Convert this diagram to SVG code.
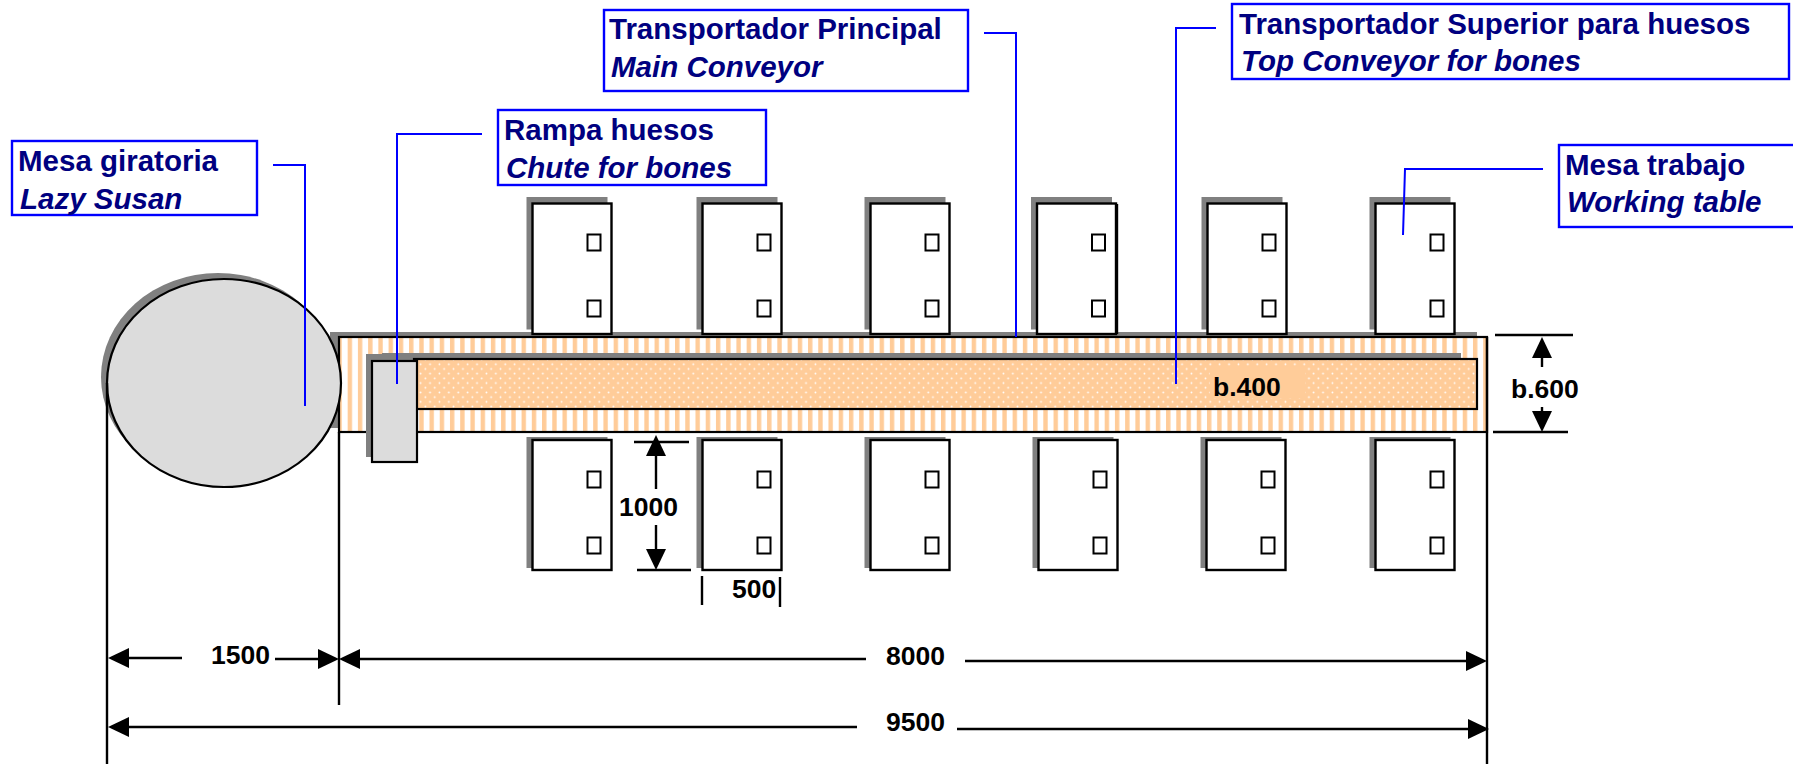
<svg xmlns="http://www.w3.org/2000/svg" width="1793" height="764" viewBox="0 0 1793 764">
<style>
text{font-family:"Liberation Sans",Arial,sans-serif;font-weight:bold}
.lab{font-size:29.5px;fill:#000080}
.it{font-style:italic}
.dim{font-size:26.5px;fill:#000}
.box{fill:#fff;stroke:#0000ff;stroke-width:2.4}
.shadow{fill:#808080}
.tb{fill:#fff;stroke:#000;stroke-width:2.4}
.sq{fill:#fff;stroke:#000;stroke-width:2}
.body{stroke:#000;stroke-width:2.2}
.lead{fill:none;stroke:#0000ff;stroke-width:2}
.dl{fill:none;stroke:#000;stroke-width:2.4}
</style>
<defs>
<pattern id="stripes" patternUnits="userSpaceOnUse" x="529" y="0" width="10.23" height="20"><rect width="10.23" height="20" fill="#fff"/><rect x="2.8" width="4.4" height="20" fill="#ffcc99"/></pattern>
<pattern id="dots" patternUnits="userSpaceOnUse" width="9.4" height="9.4"><rect width="9.4" height="9.4" fill="#ffcc99"/><circle cx="2.35" cy="2.35" r="0.9" fill="#fff"/><circle cx="7.05" cy="7.05" r="0.9" fill="#fff"/></pattern>
<marker id="tri" markerUnits="userSpaceOnUse" markerWidth="21" markerHeight="20" viewBox="0 0 21 20" refX="0" refY="10" orient="auto"><path d="M0 0L21 10L0 20Z" fill="#000"/></marker>
<g id="table-top"><rect class="shadow" x="-6" y="-6.500" width="81" height="132.500"/><rect class="tb" width="79" height="130.500"/><rect class="sq" x="55" y="31" width="13" height="16"/><rect class="sq" x="55" y="97" width="13" height="16"/></g>
<g id="table-bottom"><rect class="shadow" x="-6" y="-3" width="81" height="131"/><rect class="tb" width="79" height="130"/><rect class="sq" x="55" y="31.500" width="13" height="16"/><rect class="sq" x="55" y="97.500" width="13" height="16"/></g>
</defs>
<rect width="1793" height="764" fill="#fff"/>
<g id="main-conveyor">
<rect class="shadow" x="330" y="332" width="1147" height="96"/>
<rect class="body" x="339" y="337" width="1148" height="95" fill="url(#stripes)"/>
</g>
<g id="lazy-susan">
<ellipse class="shadow" cx="218" cy="377" rx="117" ry="104"/>
<ellipse class="body" cx="224" cy="383" rx="117" ry="104" fill="#dcdcdc"/>
</g>
<g id="top-conveyor">
<rect class="shadow" x="382" y="353" width="1079" height="10"/>
<rect class="body" x="414" y="359" width="1063" height="50" fill="url(#dots)"/>
<rect x="1210" y="367" width="95" height="31" fill="#ffcc99"/>
<text class="dim" x="1213" y="396">b.400</text>
</g>
<g id="chute">
<rect class="shadow" x="366" y="354" width="30" height="103"/>
<rect class="body" x="372" y="361" width="45" height="101" fill="#dcdcdc"/>
</g>
<g id="table-1"><use href="#table-top" x="532.500" y="203.500"/></g>
<g id="table-2"><use href="#table-top" x="702.500" y="203.500"/></g>
<g id="table-3"><use href="#table-top" x="870.500" y="203.500"/></g>
<g id="table-4"><use href="#table-top" x="1037" y="203.500"/><path class="dl" d="M1117 204V334"/></g>
<g id="table-5"><use href="#table-top" x="1207.500" y="203.500"/></g>
<g id="table-6"><use href="#table-top" x="1375.500" y="203.500"/></g>
<g id="table-7"><use href="#table-bottom" x="532.500" y="440"/></g>
<g id="table-8"><use href="#table-bottom" x="702.500" y="440"/></g>
<g id="table-9"><use href="#table-bottom" x="870.500" y="440"/></g>
<g id="table-10"><use href="#table-bottom" x="1038.500" y="440"/></g>
<g id="table-11"><use href="#table-bottom" x="1206.500" y="440"/></g>
<g id="table-12"><use href="#table-bottom" x="1375.500" y="440"/></g>
<g id="connectors">
<path class="lead" d="M273 165H305V406"/>
<path class="lead" d="M482 134H397V384"/>
<path class="lead" d="M984 33H1016V337"/>
<path class="lead" d="M1216 28H1176V384"/>
<path class="lead" d="M1543 169H1405L1403 235"/>
<path class="dl" d="M107 383V764M339 432V705M1487 337V764"/>
<path class="dl" d="M1495 335H1573M1493 432H1568M634 442H689M637 570H691M702 576V605M780 577V607"/>
<path class="dl" d="M1542 367V358" marker-end="url(#tri)"/>
<path class="dl" d="M1542 407V411" marker-end="url(#tri)"/>
<path class="dl" d="M656 489V456" marker-end="url(#tri)"/>
<path class="dl" d="M656 525V549" marker-end="url(#tri)"/>
<path class="dl" d="M182 658H129" marker-end="url(#tri)"/>
<path class="dl" d="M275 659H318" marker-end="url(#tri)"/>
<path class="dl" d="M866 659H360" marker-end="url(#tri)"/>
<path class="dl" d="M965 661H1466" marker-end="url(#tri)"/>
<path class="dl" d="M857 727H129" marker-end="url(#tri)"/>
<path class="dl" d="M957 729H1468" marker-end="url(#tri)"/>
</g>
<g id="label-mesa-giratoria"><rect class="box" x="12" y="141" width="245" height="74"/><text class="lab" x="18" y="171">Mesa giratoria</text><text class="lab it" x="20" y="209">Lazy Susan</text></g>
<g id="label-rampa"><rect class="box" x="498" y="110" width="268" height="75"/><text class="lab" x="504" y="140">Rampa huesos</text><text class="lab it" x="506" y="178">Chute for bones</text></g>
<g id="label-principal"><rect class="box" x="604" y="10" width="364" height="81"/><text class="lab" x="609" y="39">Transportador Principal</text><text class="lab it" x="611" y="77">Main Conveyor</text></g>
<g id="label-superior"><rect class="box" x="1232" y="4" width="557" height="75"/><text class="lab" x="1239" y="34">Transportador Superior para huesos</text><text class="lab it" x="1241" y="71">Top Conveyor for bones</text></g>
<g id="label-mesa-trabajo"><rect class="box" x="1559" y="145" width="240" height="82"/><text class="lab" x="1565" y="175">Mesa trabajo</text><text class="lab it" x="1567" y="212">Working table</text></g>
<g id="dimension-labels">
<text class="dim" x="1511" y="398">b.600</text>
<text class="dim" x="619" y="516">1000</text>
<text class="dim" x="732" y="598">500</text>
<text class="dim" x="211" y="664">1500</text>
<text class="dim" x="886" y="665">8000</text>
<text class="dim" x="886" y="731">9500</text>
</g>
</svg>
